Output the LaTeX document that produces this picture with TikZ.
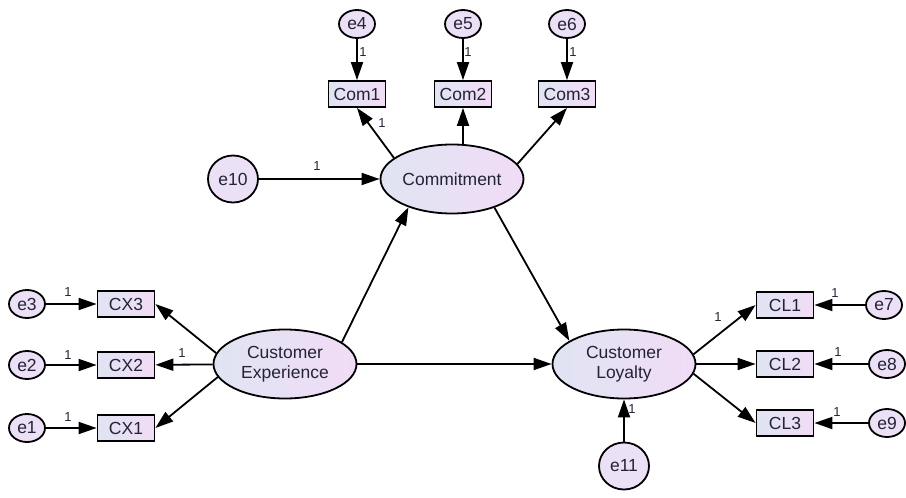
\documentclass[tikz,border=0pt]{standalone}
\usepackage{fontspec}
\setmainfont{Liberation Sans}
\usetikzlibrary{arrows.meta,shapes.geometric}
\definecolor{shA}{RGB}{224,228,242}
\definecolor{shB}{RGB}{241,220,246}
\definecolor{circ}{RGB}{236,224,246}
\definecolor{txt}{RGB}{35,35,55}
\begin{document}
\begin{tikzpicture}[x=1pt,y=-1pt,
  latent/.style={ellipse, draw, line width=1.8pt, left color=shA, right color=shB,
    minimum width=143pt, minimum height=69pt, inner sep=0pt, align=center,
    font=\fontsize{17.5}{20}\selectfont, text=txt},
  obs/.style={rectangle, draw, line width=1.8pt, left color=shA, right color=shB,
    minimum width=57pt, minimum height=26pt, inner sep=0pt,
    font=\fontsize{17.5}{20}\selectfont, text=txt},
  err/.style={ellipse, draw, line width=1.8pt, fill=circ,
    minimum width=36pt, minimum height=28pt, inner sep=0pt,
    font=\fontsize{17.5}{20}\selectfont, text=txt},
  bigerr/.style={err, minimum width=50pt, minimum height=47pt},
  pth/.style={line width=1.8pt, -{Triangle[length=18pt,width=12pt]}},
  one/.style={font=\fontsize{13}{13}\selectfont, inner sep=0pt, text=txt}
]
\useasboundingbox (0,0) rectangle (906,498);

% latent variables
\node[latent] (COM) at (452,179) {Commitment};
\node[latent] (CE) at (285,364) {Customer\\Experience};
\node[latent] (CL) at (624,364) {Customer\\Loyalty};

% observed
\node[obs] (Com1) at (357,94) {Com1};
\node[obs] (Com2) at (463,94) {Com2};
\node[obs] (Com3) at (567,94) {Com3};
\node[obs] (CX3) at (126,304) {CX3};
\node[obs] (CX2) at (126,365) {CX2};
\node[obs] (CX1) at (126,428) {CX1};
\node[obs] (CL1) at (785,305) {CL1};
\node[obs] (CL2) at (785,364) {CL2};
\node[obs] (CL3) at (785,423) {CL3};

% errors
\node[err] (e4) at (357,24) {e4};
\node[err] (e5) at (463,24) {e5};
\node[err] (e6) at (567,24) {e6};
\node[err] (e3) at (27,304) {e3};
\node[err] (e2) at (27,365) {e2};
\node[err] (e1) at (27,428) {e1};
\node[err] (e7) at (884,305) {e7};
\node[err] (e8) at (887,364) {e8};
\node[err] (e9) at (887,423) {e9};
\node[bigerr] (e10) at (233,179) {e10};
\node[bigerr] (e11) at (624,466) {e11};

% error paths
\draw[pth] (e4) -- (Com1);
\draw[pth] (e5) -- (Com2);
\draw[pth] (e6) -- (Com3);
\draw[pth] (e3) -- (CX3);
\draw[pth] (e2) -- (CX2);
\draw[pth] (e1) -- (CX1);
\draw[pth] (e7) -- (CL1);
\draw[pth] (e8) -- (CL2);
\draw[pth] (e9) -- (CL3);
\draw[pth] (e10) -- (COM);
\draw[pth] (e11) -- (CL);

% loadings
\draw[pth] (COM.160) -- (Com1.south);
\draw[pth] (COM.north -| Com2.south) -- (Com2.south);
\draw[pth] (COM.13) -- (Com3.south);
\draw[pth] (CE.171) -- (CX3.east);
\draw[pth] (CE) -- (CX2);
\draw[pth] (CE.191) -- (CX1.east);
\draw[pth] (CL.8) -- (CL1.west);
\draw[pth] (CL) -- (CL2);
\draw[pth] (CL.-8) -- (CL3.west);

% structural paths
\draw[pth] (CE.21) -- (COM.213);
\draw[pth] (COM.-34) -- (CL.157);
\draw[pth] (CE) -- (CL);

% labels
\node[one] (l1) at (363,52) {1};
\node[one] (l2) at (468,52) {1};
\node[one] (l3) at (573,52) {1};
\node[one] (l4) at (382,123) {1};
\node[one] (l5) at (317,166) {1};
\node[one] (l6) at (68,292) {1};
\node[one] (l7) at (68,355) {1};
\node[one] (l8) at (68,417) {1};
\node[one] (l9) at (182,353) {1};
\node[one] (l10) at (718,317) {1};
\node[one] (l11) at (835,293) {1};
\node[one] (l12) at (838,352) {1};
\node[one] (l13) at (837,412) {1};
\node[one] (l14) at (632,409) {1};
\end{tikzpicture}
\end{document}
